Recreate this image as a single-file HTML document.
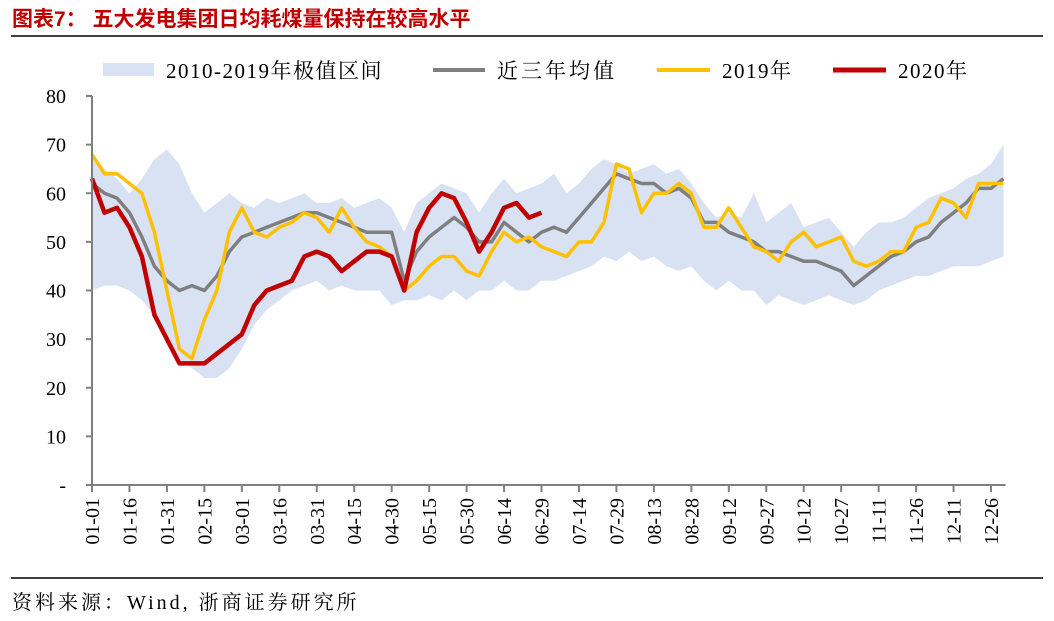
<!DOCTYPE html>
<html><head><meta charset="utf-8"><style>
body{margin:0;background:#fff;width:1054px;height:621px;overflow:hidden}
svg{display:block}
</style></head><body>
<svg id="c" width="1054" height="621" xmlns="http://www.w3.org/2000/svg">
<text x="12" y="26" font-family="Liberation Sans, Noto Sans CJK SC, sans-serif" font-size="21" font-weight="bold" fill="#c00000">图表7：  五大发电集团日均耗煤量保持在较高水平</text>
<line x1="11" y1="36" x2="1043" y2="36" stroke="#000" stroke-width="1.5"/>
<g font-family="Liberation Serif, Noto Serif CJK SC, serif" font-size="21" letter-spacing="1.5" fill="#000">
<rect x="103" y="63" width="51" height="13" fill="#d9e2f3"/>
<text x="166" y="78">2010-2019年极值区间</text>
<line x1="433" y1="70" x2="485" y2="70" stroke="#7f7f7f" stroke-width="4"/>
<text x="497" y="78" letter-spacing="3">近三年均值</text>
<line x1="657" y1="70" x2="710" y2="70" stroke="#ffc000" stroke-width="4"/>
<text x="722" y="78">2019年</text>
<line x1="833" y1="70" x2="886" y2="70" stroke="#c00000" stroke-width="5"/>
<text x="898" y="78">2020年</text>
</g>
<g id="plot"></g>
<line x1="11" y1="578" x2="1043" y2="578" stroke="#000" stroke-width="1.5"/>
<text x="12" y="609" font-family="Liberation Serif, Noto Serif CJK SC, serif" font-size="20" letter-spacing="3" fill="#000">资料来源：Wind, 浙商证券研究所</text>
</svg>
<script>
const yTicks=[0,10,20,30,40,50,60,70,80];
const yTickLabels=["-","10","20","30","40","50","60","70","80"];
const xTickLabels=["01-01","01-16","01-31","02-15","03-01","03-16","03-31","04-15","04-30","05-15","05-30","06-14","06-29","07-14","07-29","08-13","08-28","09-12","09-27","10-12","10-27","11-11","11-26","12-11","12-26"];
const days=[];for(let i=0;i<74;i++)days.push(i*5);
const bandMax=[68,65,63,60,63,67,69,66,60,56,58,60,58,57,59,58,59,60,58,58,59,57,58,59,57,52,58,60,62,61,60,56,60,63,60,61,62,64,60,62,65,67,66,64,65,66,64,65,62,58,55,56,55,60,54,56,58,53,54,55,52,49,52,54,54,55,57,59,60,61,63,64,66,70];
const bandMin=[40,41,41,40,38,35,30,26,24,22,22,24,28,33,36,38,40,41,42,40,41,40,40,40,37,38,38,39,38,40,38,40,40,42,40,40,42,42,43,44,45,47,46,48,46,47,45,44,45,42,40,42,40,40,37,39,38,37,38,39,38,37,38,40,41,42,43,43,44,45,45,45,46,47];
const avg3=[62,60,59,56,51,45,42,40,41,40,43,48,51,52,53,54,55,56,56,55,54,53,52,52,52,42,48,51,53,55,53,50,50,54,52,50,52,53,52,55,58,61,64,63,62,62,60,61,59,54,54,52,51,50,48,48,47,46,46,45,44,41,43,45,47,48,50,51,54,56,58,61,61,63];
const y2019=[68,64,64,62,60,52,40,28,26,34,40,52,57,52,51,53,54,56,55,52,57,53,50,49,47,40,42,45,47,47,44,43,48,52,50,51,49,48,47,50,50,54,66,65,56,60,60,62,60,53,53,57,53,49,48,46,50,52,49,50,51,46,45,46,48,48,53,54,59,58,55,62,62,62];
const y2020=[63,56,57,53,47,35,30,25,25,25,27,29,31,37,40,41,42,47,48,47,44,46,48,48,47,40,52,57,60,59,54,48,52,57,58,55,56];
const X0=92,X1=1003.5,Y0=485,Y1=96;
const xs=d=>X0+(X1-X0)*d/365;
const ys=v=>Y0-(Y0-Y1)*v/80;
const NS="http://www.w3.org/2000/svg";
const plot=document.getElementById('plot');
function mk(t,a){const e=document.createElementNS(NS,t);for(const k in a)e.setAttribute(k,a[k]);plot.appendChild(e);return e;}
let bp="M"+days.map((d,i)=>xs(d).toFixed(1)+","+ys(bandMax[i]).toFixed(1)).join("L");
for(let i=days.length-1;i>=0;i--)bp+="L"+xs(days[i]).toFixed(1)+","+ys(bandMin[i]).toFixed(1);
const band=mk('path',{d:bp+"Z",fill:"#d9e2f3"});


function line(arr,color,w,name){
 const d="M"+arr.map((v,i)=>xs(days[i]).toFixed(1)+","+ys(v).toFixed(1)).join("L");
 const p=mk('path',{d:d,fill:"none",stroke:color,"stroke-width":w,"stroke-linejoin":"round"});
 
 
}
line(avg3,"#7f7f7f",3.5,"avg-3yr-line");
line(y2019,"#ffc000",3.5,"line-2019");
line(y2020,"#c00000",4.5,"line-2020");
const ya=mk('line',{x1:X0,y1:Y1,x2:X0,y2:Y0,stroke:"#808080","stroke-width":2});


const xa=mk('line',{x1:X0,y1:Y0,x2:X1+2,y2:Y0,stroke:"#808080","stroke-width":2});


yTicks.forEach((v,i)=>{
 const y=ys(v);
 const t=mk('line',{x1:X0-6,y1:y,x2:X0,y2:y,stroke:"#808080","stroke-width":2});
 
 
 const l=mk('text',{x:66,y:y+7,"text-anchor":"end","font-family":"Liberation Serif, serif","font-size":"20",fill:"#000"});
 l.textContent=yTickLabels[i];
 
 
});
xTickLabels.forEach((s,i)=>{
 const x=xs(i*15);
 const t=mk('line',{x1:x,y1:Y0,x2:x,y2:Y0+7,stroke:"#808080","stroke-width":2});
 
 
 const l=mk('text',{x:0,y:0,"text-anchor":"end","font-family":"Liberation Serif, serif","font-size":"20",fill:"#000",transform:`translate(${x+7},${Y0+13}) rotate(-90)`});
 l.textContent=s;
 
 
});
</script>
</body></html>
